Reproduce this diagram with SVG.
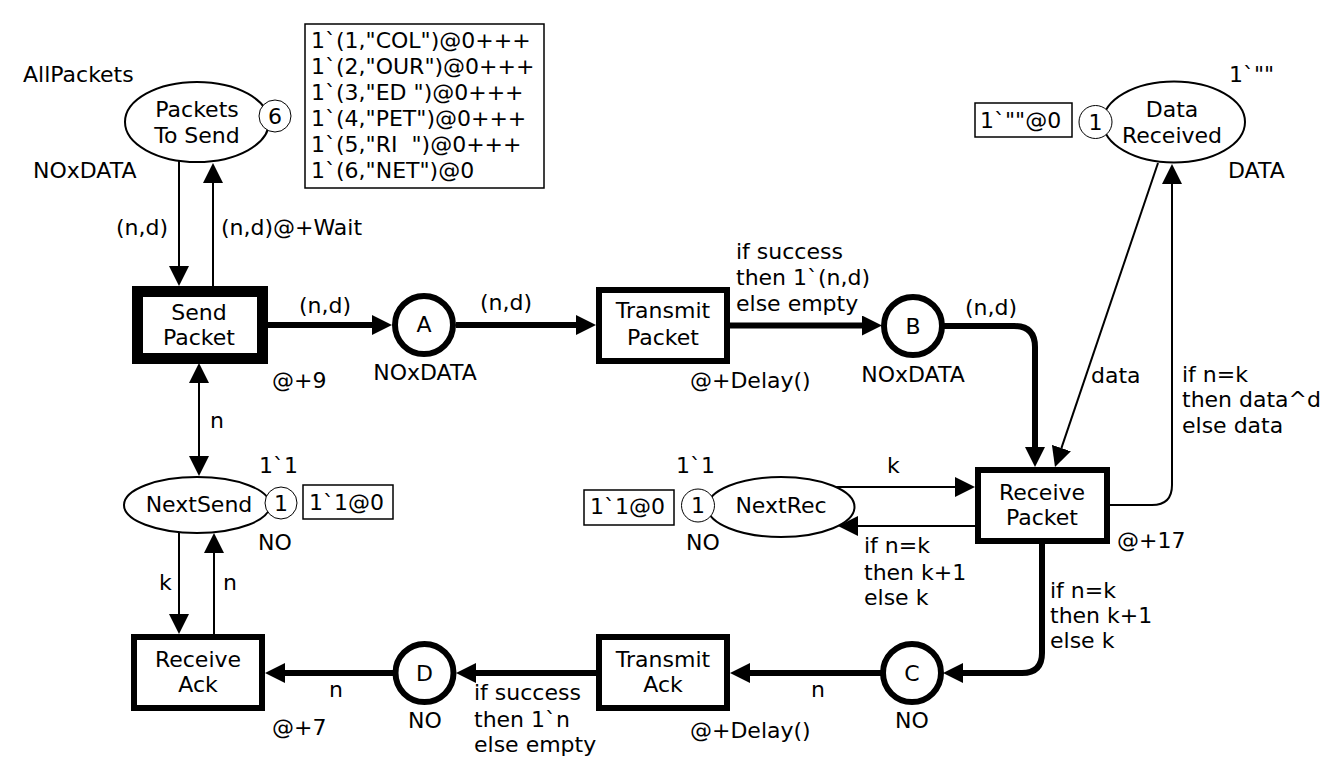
<svg xmlns="http://www.w3.org/2000/svg" width="1336" height="780" viewBox="0 0 1336 780">
<style>
text{font-family:"DejaVu Sans","Liberation Sans",sans-serif;font-size:22px;fill:#000}
.m{text-anchor:middle}
.place{fill:#fff;stroke:#000;stroke-width:2}
.cp{fill:#fff;stroke:#000;stroke-width:6}
.tr{fill:#fff;stroke:#000;stroke-width:6}
.tok{fill:#fff;stroke:#000;stroke-width:1}
.mk{fill:#fff;stroke:#000;stroke-width:1.5}
.thin{fill:none;stroke:#000;stroke-width:2}
.thick{fill:none;stroke:#000;stroke-width:6}
</style>
<defs>
<marker id="ah" viewBox="0 0 20 20" refX="0" refY="10" markerWidth="20" markerHeight="20" markerUnits="userSpaceOnUse" orient="auto-start-reverse">
<path d="M0,0 L20,10 L0,20 z" fill="#000"/>
</marker>
</defs>
<rect width="1336" height="780" fill="#fff"/>

<g id="connectors">
<path class="thin" d="M179,161 V266" marker-end="url(#ah)"/>
<path class="thin" d="M213,286 V183" marker-end="url(#ah)"/>
<path class="thin" d="M199,383 V456" marker-start="url(#ah)" marker-end="url(#ah)"/>
<path class="thin" d="M179,532 V614" marker-end="url(#ah)"/>
<path class="thin" d="M214,634 V553" marker-end="url(#ah)"/>
<path class="thick" d="M268,325 H372" marker-end="url(#ah)"/>
<path class="thick" d="M456,325 H576" marker-end="url(#ah)"/>
<path class="thick" d="M730,325.5 H862" marker-end="url(#ah)"/>
<path class="thick" d="M944,326 H1014 Q1035,326 1035,347 V447" marker-end="url(#ah)"/>
<path class="thin" d="M1158,163 L1061.4,448.1" marker-end="url(#ah)"/>
<path class="thin" d="M1110,505 H1152 Q1172,505 1172,485 V184" marker-end="url(#ah)"/>
<path class="thin" d="M836,487 H955" marker-end="url(#ah)"/>
<path class="thin" d="M975,526 H858" marker-end="url(#ah)"/>
<path class="thick" d="M1042,544 V653 Q1042,673 1022,673 H963" marker-end="url(#ah)"/>
<path class="thick" d="M881,673 H750" marker-end="url(#ah)"/>
<path class="thick" d="M596,673 H476" marker-end="url(#ah)"/>
<path class="thick" d="M393,673 H285" marker-end="url(#ah)"/>
</g>

<g id="arc-labels">
<text x="116" y="235">(n,d)</text>
<text x="221" y="235">(n,d)@+Wait</text>
<text x="210" y="428">n</text>
<text x="299" y="313">(n,d)</text>
<text x="480" y="310">(n,d)</text>
<text x="736" y="259">if success</text>
<text x="736" y="285">then 1`(n,d)</text>
<text x="736" y="311">else empty</text>
<text x="965" y="315">(n,d)</text>
<text x="1091" y="383">data</text>
<text x="1182" y="382">if n=k</text>
<text x="1182" y="407">then data^d</text>
<text x="1182" y="433">else data</text>
<text x="887" y="473">k</text>
<text x="864" y="553">if n=k</text>
<text x="864" y="580">then k+1</text>
<text x="864" y="605">else k</text>
<text x="1050" y="598">if n=k</text>
<text x="1050" y="623">then k+1</text>
<text x="1050" y="648">else k</text>
<text x="811" y="697">n</text>
<text x="474" y="700">if success</text>
<text x="474" y="727">then 1`n</text>
<text x="474" y="752">else empty</text>
<text x="329" y="697">n</text>
<text x="159" y="590">k</text>
<text x="223" y="590">n</text>
</g>

<g id="PacketsToSend">
<ellipse class="place" cx="197" cy="122" rx="72" ry="40"/>
<text class="m" x="197" y="117">Packets</text>
<text class="m" x="197" y="143">To Send</text>
<circle class="tok" cx="275" cy="116" r="16"/>
<text class="m" x="275" y="124">6</text>
<text x="23" y="82">AllPackets</text>
<text x="33" y="178">NOxDATA</text>
<rect class="mk" x="305" y="24" width="239" height="164"/>
<text x="311" y="48">1`(1,"COL")@0+++</text>
<text x="311" y="74">1`(2,"OUR")@0+++</text>
<text x="311" y="100">1`(3,"ED ")@0+++</text>
<text x="311" y="126">1`(4,"PET")@0+++</text>
<text x="311" y="152" xml:space="preserve">1`(5,"RI  ")@0+++</text>
<text x="311" y="178">1`(6,"NET")@0</text>
</g>

<g id="SendPacket">
<rect class="tr" x="137.5" y="291.5" width="125" height="67" style="stroke-width:11"/>
<text class="m" x="199" y="320">Send</text>
<text class="m" x="199" y="345">Packet</text>
<text x="272" y="388">@+9</text>
</g>

<g id="A">
<circle class="cp" cx="424" cy="325" r="29"/>
<text class="m" x="424" y="332">A</text>
<text class="m" x="425" y="380">NOxDATA</text>
</g>

<g id="TransmitPacket">
<rect class="tr" x="599" y="290" width="128" height="71"/>
<text class="m" x="663" y="318">Transmit</text>
<text class="m" x="663" y="345">Packet</text>
<text x="690" y="388">@+Delay()</text>
</g>

<g id="B">
<circle class="cp" cx="913" cy="326" r="29"/>
<text class="m" x="913" y="334">B</text>
<text class="m" x="913" y="382">NOxDATA</text>
</g>

<g id="DataReceived">
<ellipse class="place" cx="1174" cy="122" rx="71" ry="40.5"/>
<text class="m" x="1172" y="117">Data</text>
<text class="m" x="1172" y="143">Received</text>
<circle class="tok" cx="1095.5" cy="122" r="16.5"/>
<text class="m" x="1095.5" y="130">1</text>
<rect class="mk" x="975" y="103" width="97" height="34"/>
<text x="980" y="128">1`""@0</text>
<text x="1229" y="82">1`""</text>
<text x="1228" y="178">DATA</text>
</g>

<g id="ReceivePacket">
<rect class="tr" x="978" y="470" width="129" height="71"/>
<text class="m" x="1042" y="500">Receive</text>
<text class="m" x="1042" y="525">Packet</text>
<text x="1117" y="548">@+17</text>
</g>

<g id="NextRec">
<ellipse class="place" cx="781" cy="507" rx="73.5" ry="30"/>
<text class="m" x="781" y="513">NextRec</text>
<circle class="tok" cx="698" cy="505.5" r="16.5"/>
<text class="m" x="698" y="513">1</text>
<rect class="mk" x="584" y="490" width="90" height="35"/>
<text x="590" y="514">1`1@0</text>
<text x="676" y="473">1`1</text>
<text x="686" y="550">NO</text>
</g>

<g id="C">
<circle class="cp" cx="912" cy="673" r="29"/>
<text class="m" x="912" y="681">C</text>
<text class="m" x="912" y="728">NO</text>
</g>

<g id="TransmitAck">
<rect class="tr" x="599" y="637" width="128" height="71"/>
<text class="m" x="663" y="667">Transmit</text>
<text class="m" x="663" y="692">Ack</text>
<text x="690" y="738">@+Delay()</text>
</g>

<g id="D">
<circle class="cp" cx="424.5" cy="673" r="29"/>
<text class="m" x="424.5" y="681">D</text>
<text class="m" x="425" y="728">NO</text>
</g>

<g id="ReceiveAck">
<rect class="tr" x="134" y="637" width="128" height="71"/>
<text class="m" x="198" y="667">Receive</text>
<text class="m" x="198" y="692">Ack</text>
<text x="272" y="735">@+7</text>
</g>

<g id="NextSend">
<ellipse class="place" cx="197" cy="505" rx="73" ry="28"/>
<text class="m" x="199" y="512">NextSend</text>
<circle class="tok" cx="281" cy="503" r="16"/>
<text class="m" x="281" y="511">1</text>
<rect class="mk" x="303" y="485" width="90" height="34"/>
<text x="309" y="510">1`1@0</text>
<text x="259" y="473">1`1</text>
<text x="258" y="550">NO</text>
</g>
</svg>
